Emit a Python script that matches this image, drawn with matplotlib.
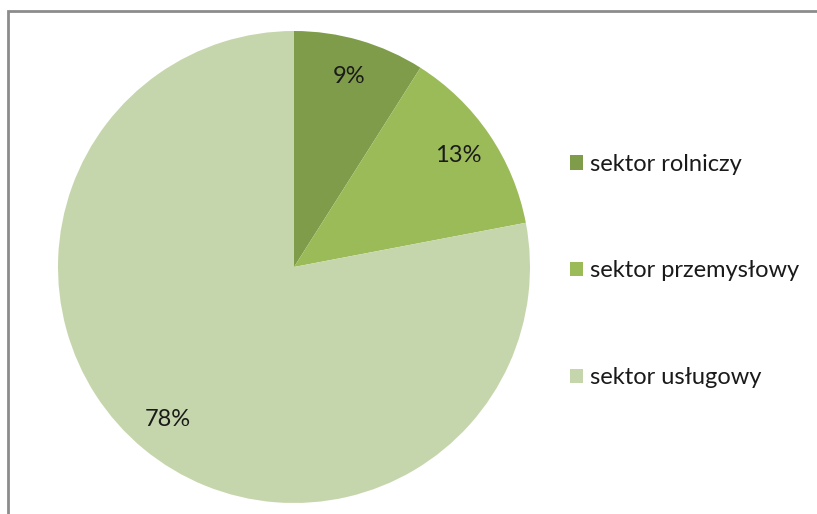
import matplotlib
matplotlib.use('Agg')
import matplotlib.pyplot as plt
from matplotlib.patches import Patch
from matplotlib.lines import Line2D

# dane
sectors = ['sektor rolniczy', 'sektor przemysłowy', 'sektor usługowy']
shares = [9, 13, 78]
colors = ['#7F9C4A', '#9BBB59', '#C6D6AC']

W, H = 817, 514
cx, cy, R = 294, 267, 236  # pie centre / radius in pixels

fig = plt.figure(figsize=(W / 100, H / 100), dpi=100)
ax = fig.add_axes([0, 0, 1, 1])

wedges, texts, autotexts = ax.pie(
    shares, colors=colors, startangle=90, counterclock=False,
    autopct='%d%%', pctdistance=0.84,
    textprops={'fontsize': 17, 'family': 'Lato', 'color': '#1a1a1a'},
)
ax.set_aspect('auto')
ax.set_xlim(-cx / R, (W - cx) / R)
ax.set_ylim(-(H - cy) / R, cy / R)
ax.axis('off')

# ramka wykresu (widoczna tylko góra i lewa strona)
fig.add_artist(Line2D([8 / W, 8 / W, 1.01], [-0.01, 1 - 11 / H, 1 - 11 / H],
                      transform=fig.transFigure, color='#8c8c8c', lw=2,
                      solid_capstyle='butt', solid_joinstyle='miter'))

handles = [Patch(facecolor=c, edgecolor='none') for c in colors]
leg = fig.legend(handles, sectors, loc='center left',
                 bbox_to_anchor=(549 / W, 1 - 271 / H),
                 frameon=False, prop={'family': 'Lato', 'size': 17},
                 handlelength=0.55, handleheight=0.55, handletextpad=0.3,
                 labelspacing=3.63)
for t in leg.get_texts():
    t.set_color('#1a1a1a')

fig.savefig('out.png', dpi=100)
